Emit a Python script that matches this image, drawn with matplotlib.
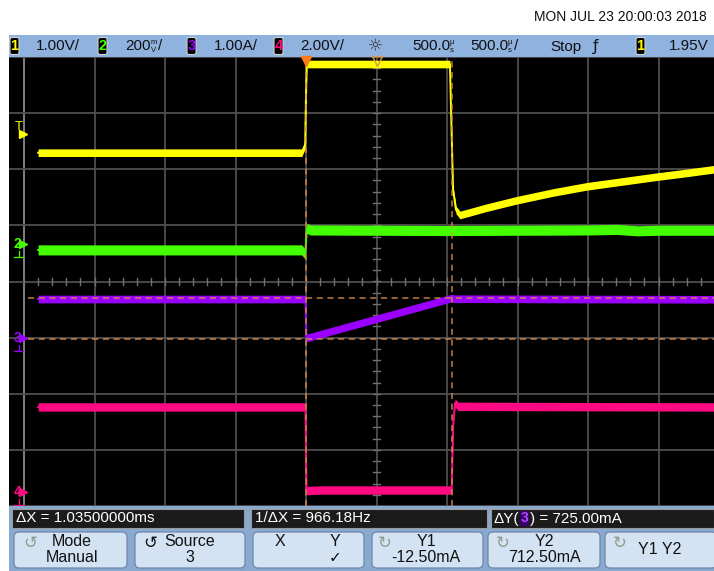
import matplotlib
matplotlib.use('Agg')
import matplotlib.pyplot as plt
import matplotlib.transforms as mtrans
from matplotlib.patches import Rectangle, FancyBboxPatch
import numpy as np

# ---------------- data ----------------
# Channel 1 (V) - yellow
ch1_t = [-1.90, -0.03, -0.006, 0.0, 0.006, 1.015, 1.021, 1.028, 1.043, 1.064,
         1.092, 1.18, 1.28, 1.49, 1.75, 1.99, 2.25, 2.48, 2.70, 2.894]
ch1_v = [1.58, 1.58, 1.72, 2.60, 3.16, 3.16, 3.16, 2.39, 0.92, 0.56,
         0.47, 0.53, 0.60, 0.73, 0.87, 0.98, 1.07, 1.15, 1.22, 1.285]
# Channel 2 (V) - green
ch2_t = [-1.90, -0.03, -0.006, 0.0, 0.006, 0.03, 0.5, 1.0, 1.5, 2.0, 2.2, 2.35, 2.5, 2.7, 2.894]
ch2_v = [-0.021, -0.021, -0.036, 0.010, 0.056, 0.050, 0.049, 0.048, 0.049, 0.050,
         0.052, 0.047, 0.049, 0.049, 0.049]
# Channel 3 (A) - purple
ch3_t = [-1.90, -0.004, 0.0, 0.004, 1.035, 1.05, 2.894]
ch3_i = [0.695, 0.695, 0.30, 0.0, 0.713, 0.700, 0.690]
# Channel 4 (V) - pink
ch4_t = [-1.90, -0.004, 0.0, 0.004, 0.1, 1.033, 1.045, 1.057, 1.08, 2.894]
ch4_v = [3.03, 3.03, 1.50, 0.05, 0.07, 0.07, 2.50, 3.17, 3.05, 3.03]

# Channel settings: scale per division and ground position (divisions)
ch_scale = [1.0, 0.2, 1.0, 2.0]
ch_pos = [0.715, 0.668, -1.007, -3.75]
ch_colors = ['#ffff00', '#44ff00', '#9b00ff', '#ff0a82']
ch_labels = ['1.00V/', '200', '1.00A/', '2.00V/']
trig_level = 1.95

# Cursors
cur_x = [0.0, 1.035]          # ms
cur_y = [-0.0125, 0.7125]     # A, on channel 3

# Timebase
t_div = 0.5      # ms / div
t_delay = 0.5    # ms (centre of screen)

# ---------------- layout ----------------
W, H = 714, 571
fig = plt.figure(figsize=(W / 100, H / 100), dpi=100)
fig.patch.set_facecolor('white')
FONT = ['Liberation Sans', 'DejaVu Sans']

ui = fig.add_axes([0, 0, 1, 1], zorder=0)
ui.set_xlim(0, W)
ui.set_ylim(H, 0)
ui.axis('off')

# screen axes
SX0, SX1, SY0, SY1 = 9, 714, 57, 506
sc = fig.add_axes([SX0 / W, 1 - SY1 / H, (SX1 - SX0) / W, (SY1 - SY0) / H], zorder=1)
sc.set_facecolor('black')
for s in sc.spines.values():
    s.set_visible(False)
sc.set_xticks([])
sc.set_yticks([])
grid_left = t_delay - 5 * t_div
grid_right = t_delay + 5 * t_div
pad = 15 / 141.0
sc.set_xlim(grid_left - pad, grid_right - pad)
sc.set_ylim(-4, 4)

# grid
gcol = '#4e4e4e'
for k in range(11):
    x = grid_left + k * t_div
    sc.axvline(x, color='#8a8a8a' if k == 0 else gcol, lw=1.3, zorder=1)
for k in range(9):
    sc.axhline(-4 + k, color=gcol, lw=1.3, zorder=1)
# minor ticks on centre lines
tx = np.arange(grid_left, grid_right + 1e-9, t_div / 5)
for x in tx:
    sc.plot([x, x], [-0.055, 0.055], color='#707070', lw=1.0, zorder=1)
ty = np.arange(-4, 4.0001, 0.2)
for y in ty:
    sc.plot([t_delay - 0.022, t_delay + 0.022], [y, y], color='#707070', lw=1.0, zorder=1)

# traces
half_w = [0.068, 0.09, 0.068, 0.075]
series = [(ch1_t, ch1_v), (ch2_t, ch2_v), (ch3_t, ch3_i), (ch4_t, ch4_v)]
for i, (t, v) in enumerate(series):
    d = ch_pos[i] + np.asarray(v) / ch_scale[i]
    sc.fill_between(t, d - half_w[i], d + half_w[i], color=ch_colors[i], lw=0, zorder=3)
    sc.plot(t, d, color=ch_colors[i], lw=1.4, zorder=3)

# cursors
ccol = '#d98a4a'
for x in cur_x:
    sc.axvline(x, color=ccol, lw=1.1, ls=(0, (4, 3)), zorder=5, alpha=0.9)
for yv in cur_y:
    yd = ch_pos[2] + yv / ch_scale[2]
    sc.hlines(yd, grid_left + 0.03, grid_right, color=ccol, lw=1.1,
              linestyles=[(0, (4, 3))], zorder=5, alpha=0.9)

# trigger / delay markers at top
sc.plot([cur_x[0]], [3.93], marker='v', color='#ff7a1a', ms=7, mec='#ff7a1a', clip_on=False, zorder=6)
sc.plot([t_delay], [3.92], marker='v', color='none', ms=7, mec='#d99a50', mew=1.0, clip_on=False, zorder=6)

# left markers
bt = mtrans.blended_transform_factory(sc.transAxes, sc.transData)
mk_x_txt = 4.5 / (SX1 - SX0)
mk_x_tri = 13.5 / (SX1 - SX0)
sc.text(mk_x_txt + 0.002, ch_pos[0] + trig_level / ch_scale[0] + 0.08, 'T', transform=bt, color=ch_colors[0],
        fontsize=9.5, family=FONT, va='center', ha='left', zorder=7)
sc.plot([mk_x_tri], [ch_pos[0] + trig_level / ch_scale[0] - 0.03], marker='>', color=ch_colors[0],
        ms=5.5, transform=bt, clip_on=False, zorder=7)
for i in (1, 2, 3):
    sc.text(mk_x_txt, ch_pos[i], str(i + 1), transform=bt, color=ch_colors[i],
            fontsize=10, family=FONT, va='center', ha='left', zorder=7, fontweight='bold')
    sc.plot([mk_x_tri], [ch_pos[i]], marker='>', color=ch_colors[i], ms=5.5, transform=bt,
            clip_on=False, zorder=7)
    # ground symbol
    gx = 9.5 / (SX1 - SX0)
    sc.plot([gx, gx], [ch_pos[i] - 0.13, ch_pos[i] - 0.23], color=ch_colors[i], lw=0.9, transform=bt, zorder=7)
    sc.plot([gx - 0.007, gx + 0.007], [ch_pos[i] - 0.23, ch_pos[i] - 0.23], color=ch_colors[i], lw=0.9,
            transform=bt, zorder=7)

# ---------------- chrome ----------------
# date
ui.text(707, 17, 'MON JUL 23 20:00:03 2018', ha='right', va='center', fontsize=10,
        family=FONT, color='#111111')

# header bar
hbar = '#8fb2df'
ui.add_patch(Rectangle((9, 35), W - 9, 22, color=hbar, lw=0))


def chbox(x, n, col):
    ui.add_patch(FancyBboxPatch((x, 37.5), 9, 17, boxstyle='round,pad=0,rounding_size=2',
                                fc='black', ec='#d0d0d0', lw=0.8))
    ui.text(x + 4.5, 46.5, str(n), ha='center', va='center', color=col, fontsize=10.5,
            family=FONT, fontweight='bold')


hdr_fs = 11
hy = 46.5
tc = '#111111'
chbox(10, 1, ch_colors[0])
ui.text(36, hy, ch_labels[0], ha='left', va='center', fontsize=hdr_fs, family=FONT, color=tc)
chbox(98, 2, ch_colors[1])
ui.text(125, hy, ch_labels[1], ha='left', va='center', fontsize=hdr_fs, family=FONT, color=tc)
ui.text(154, 42.5, 'm', ha='center', va='center', fontsize=5.5, family=FONT, color=tc)
ui.text(154, 50.5, 'V', ha='center', va='center', fontsize=5.5, family=FONT, color=tc)
ui.text(158.5, hy, '/', ha='left', va='center', fontsize=hdr_fs, family=FONT, color=tc)
chbox(187, 3, ch_colors[2])
ui.text(214, hy, ch_labels[2], ha='left', va='center', fontsize=hdr_fs, family=FONT, color=tc)
chbox(274, 4, ch_colors[3])
ui.text(300, hy, ch_labels[3], ha='left', va='center', fontsize=hdr_fs, family=FONT, color=tc)
ui.text(375, hy, '\u263c', ha='center', va='center', fontsize=12, family='DejaVu Sans', color='#333333')
ui.text(412, hy, '500.0', ha='left', va='center', fontsize=hdr_fs, family=FONT, color=tc)
ui.text(452, 42.5, '\u00b5', ha='center', va='center', fontsize=5.5, family=FONT, color=tc)
ui.text(452, 50.5, 's', ha='center', va='center', fontsize=5.5, family=FONT, color=tc)
ui.text(470, hy, '500.0', ha='left', va='center', fontsize=hdr_fs, family=FONT, color=tc)
ui.text(510, 42.5, '\u00b5', ha='center', va='center', fontsize=5.5, family=FONT, color=tc)
ui.text(510, 50.5, 's', ha='center', va='center', fontsize=5.5, family=FONT, color=tc)
ui.text(514, hy, '/', ha='left', va='center', fontsize=hdr_fs, family=FONT, color=tc)
ui.text(550, hy, 'Stop', ha='left', va='center', fontsize=hdr_fs, family=FONT, color=tc)
ui.text(596, hy, '\u0192', ha='center', va='center', fontsize=11, family='DejaVu Sans', color=tc)
chbox(636, 1, ch_colors[0])
ui.text(709, hy, '%.2fV' % trig_level, ha='right', va='center', fontsize=hdr_fs, family=FONT,
        color=tc)

# measurement bar
mfs = 11
ui.add_patch(Rectangle((9, 506), W - 9, 23, color='#8aa7cc', lw=0))
mboxes = [(12, 232, '\u0394X = 1.03500000ms'), (251, 236, '1/\u0394X = 966.18Hz'),
          (491, 223, None)]
for x0, w, txt in mboxes:
    ui.add_patch(Rectangle((x0, 508.5), w, 19, fc='#1b1b1b', ec='#9a9a9a', lw=0.8))
    if txt:
        ui.text(x0 + 4, 518.5, txt, ha='left', va='center', fontsize=mfs, family=FONT, color='white')
ui.text(494, 518.5, '\u0394Y(', ha='left', va='center', fontsize=mfs, family=FONT, color='white')
ui.add_patch(Rectangle((520, 511), 9, 15, fc='#3a0070', lw=0))
ui.text(524.5, 518.5, '3', ha='center', va='center', fontsize=10, family=FONT, color='#b04cff',
        fontweight='bold')
ui.text(530, 518.5, ') = 725.00mA', ha='left', va='center', fontsize=mfs, family=FONT, color='white')

# softkeys
ui.add_patch(Rectangle((9, 529), W - 9, H - 529, color='#8aa9d0', lw=0))
keys = [(14, 113), (135, 110), (253, 111), (372, 111), (488, 112), (605, 112)]
for x0, w in keys:
    ui.add_patch(FancyBboxPatch((x0, 532), w, 36, boxstyle='round,pad=0,rounding_size=5',
                                fc='#d3e3f3', ec='#6f87a8', lw=0.9))
kfs = 11.5
ui.text(30, 543, '\u21ba', ha='center', va='center', fontsize=12, family='DejaVu Sans', color='#8e9c8e')
ui.text(72, 542, 'Mode', ha='center', va='center', fontsize=kfs, family=FONT, color=tc)
ui.text(72, 558, 'Manual', ha='center', va='center', fontsize=kfs, family=FONT, color=tc)
ui.text(150, 543, '\u21ba', ha='center', va='center', fontsize=12, family='DejaVu Sans', color='#111111')
ui.text(190, 542, 'Source', ha='center', va='center', fontsize=kfs, family=FONT, color=tc)
ui.text(190, 558, '3', ha='center', va='center', fontsize=kfs, family=FONT, color=tc)
ui.text(280, 541, 'X', ha='center', va='center', fontsize=kfs, family=FONT, color=tc)
ui.text(335, 541, 'Y', ha='center', va='center', fontsize=kfs, family=FONT, color=tc)
ui.text(335, 558, '\u2713', ha='center', va='center', fontsize=11, family='DejaVu Sans', color=tc)
for ix, top, bot in [(385, 'Y1', '%.2fmA' % (cur_y[0] * 1000)), (503, 'Y2', '%.2fmA' % (cur_y[1] * 1000))]:
    ui.text(ix, 543, '\u21bb', ha='center', va='center', fontsize=12, family='DejaVu Sans', color='#8e9c8e')
    ui.text(ix + 41, 541, top, ha='center', va='center', fontsize=kfs, family=FONT, color=tc)
    ui.text(ix + 41, 558, bot, ha='center', va='center', fontsize=kfs, family=FONT, color=tc)
ui.text(620, 543, '\u21bb', ha='center', va='center', fontsize=12, family='DejaVu Sans', color='#8e9c8e')
ui.text(660, 549, 'Y1 Y2', ha='center', va='center', fontsize=kfs, family=FONT, color=tc)

fig.savefig('out.png', dpi=100, facecolor='white')
